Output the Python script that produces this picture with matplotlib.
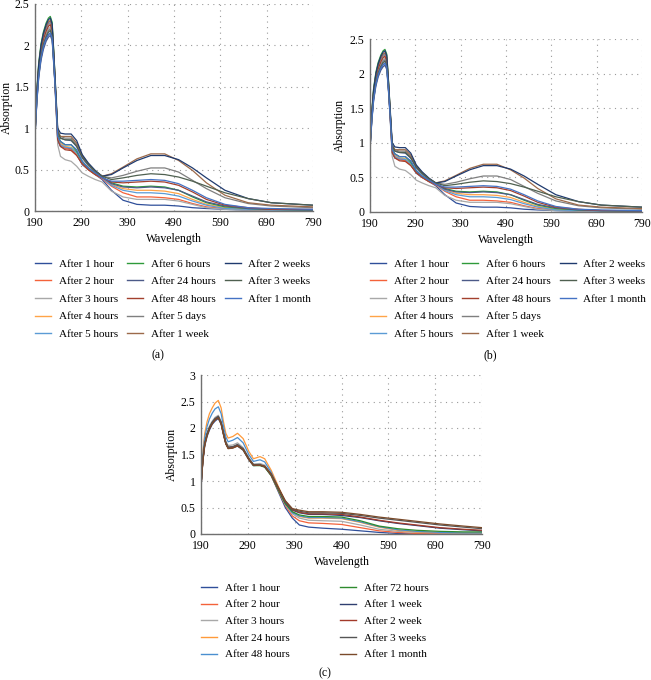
import numpy as np
import matplotlib
matplotlib.use("Agg")
import matplotlib.pyplot as plt
from matplotlib.lines import Line2D

plt.rcParams['font.family'] = ['Liberation Serif', 'DejaVu Serif']

# ---- panel (a) / (b) data ----
wl_ab = [190, 194, 198, 203, 208, 214, 219, 223, 227, 231, 235, 239, 245, 255, 268, 280, 292, 305, 320, 335,
         355, 380, 410, 440, 470, 500, 530, 560, 600, 650, 700, 790]

labels_ab = ["After 1 hour", "After 2 hour", "After 3 hours", "After 4 hours", "After 5 hours",
             "After 6 hours", "After 24 hours", "After 48 hours", "After 5 days", "After 1 week",
             "After 2 weeks", "After 3 weeks", "After 1 month"]
colors_ab = ["#2f4f9a", "#f4623a", "#a8a8a8", "#ffa448", "#5b9bd5",
             "#2e9a3a", "#4c5a88", "#a3402d", "#7f7f7f", "#9c6a4a",
             "#1f3a6e", "#4f6050", "#4472c4"]

a_1h = [0.92, 1.33, 1.63, 1.85, 1.98, 2.08, 2.13, 2.15, 2.09, 1.75, 1.30, 0.85, 0.78, 0.76, 0.75, 0.68, 0.56, 0.50, 0.44, 0.38,
        0.25, 0.13, 0.08, 0.07, 0.07, 0.06, 0.04, 0.03, 0.02, 0.01, 0.01, 0.00]
a_2h = [0.95, 1.41, 1.73, 1.95, 2.09, 2.19, 2.25, 2.27, 2.20, 1.82, 1.35, 0.88, 0.80, 0.76, 0.74, 0.68, 0.57, 0.50, 0.44, 0.39,
        0.30, 0.22, 0.17, 0.17, 0.16, 0.14, 0.09, 0.05, 0.03, 0.02, 0.01, 0.01]
a_3h = [0.93, 1.38, 1.69, 1.91, 2.04, 2.14, 2.20, 2.22, 2.15, 1.78, 1.28, 0.80, 0.66, 0.62, 0.60, 0.54, 0.46, 0.42, 0.38, 0.35,
        0.24, 0.17, 0.14, 0.14, 0.14, 0.12, 0.08, 0.04, 0.02, 0.01, 0.01, 0.00]
a_4h = [0.95, 1.43, 1.75, 1.98, 2.12, 2.22, 2.28, 2.30, 2.23, 1.84, 1.38, 0.90, 0.82, 0.78, 0.77, 0.70, 0.58, 0.51, 0.45, 0.40,
        0.32, 0.27, 0.25, 0.25, 0.24, 0.21, 0.14, 0.08, 0.04, 0.02, 0.01, 0.01]
a_5h = [0.94, 1.41, 1.73, 1.96, 2.10, 2.20, 2.26, 2.28, 2.21, 1.82, 1.36, 0.88, 0.80, 0.77, 0.76, 0.70, 0.58, 0.51, 0.45, 0.40,
        0.31, 0.25, 0.22, 0.22, 0.21, 0.18, 0.12, 0.07, 0.03, 0.02, 0.01, 0.01]
a_6h = [0.96, 1.46, 1.79, 2.02, 2.16, 2.27, 2.33, 2.35, 2.28, 1.88, 1.40, 0.92, 0.84, 0.80, 0.80, 0.72, 0.60, 0.52, 0.46, 0.41,
        0.34, 0.30, 0.29, 0.30, 0.29, 0.25, 0.17, 0.10, 0.05, 0.03, 0.02, 0.01]
a_24h = [0.90, 1.31, 1.61, 1.82, 1.95, 2.05, 2.10, 2.12, 2.06, 1.72, 1.36, 0.95, 0.88, 0.86, 0.85, 0.78, 0.64, 0.55, 0.47, 0.41,
         0.33, 0.29, 0.28, 0.29, 0.28, 0.25, 0.18, 0.11, 0.06, 0.03, 0.02, 0.01]
a_48h = [0.94, 1.40, 1.71, 1.94, 2.07, 2.17, 2.23, 2.25, 2.18, 1.80, 1.33, 0.86, 0.78, 0.74, 0.73, 0.67, 0.57, 0.50, 0.44, 0.40,
         0.35, 0.34, 0.35, 0.36, 0.35, 0.31, 0.23, 0.14, 0.07, 0.04, 0.02, 0.02]
a_5d = [0.93, 1.36, 1.67, 1.89, 2.02, 2.12, 2.18, 2.20, 2.13, 1.77, 1.38, 0.97, 0.90, 0.88, 0.88, 0.80, 0.66, 0.56, 0.48, 0.42,
        0.40, 0.43, 0.48, 0.52, 0.52, 0.47, 0.37, 0.27, 0.16, 0.09, 0.06, 0.04]
a_1w = [0.95, 1.43, 1.75, 1.98, 2.12, 2.22, 2.28, 2.30, 2.23, 1.84, 1.40, 0.96, 0.90, 0.90, 0.90, 0.82, 0.67, 0.57, 0.48, 0.42,
        0.45, 0.53, 0.63, 0.69, 0.69, 0.61, 0.49, 0.34, 0.19, 0.10, 0.07, 0.05]
a_2w = [0.96, 1.44, 1.77, 2.00, 2.14, 2.25, 2.31, 2.33, 2.26, 1.86, 1.44, 1.00, 0.94, 0.93, 0.93, 0.85, 0.68, 0.58, 0.49, 0.42,
        0.44, 0.52, 0.61, 0.67, 0.67, 0.62, 0.52, 0.40, 0.25, 0.15, 0.10, 0.07]
a_3w = [0.92, 1.35, 1.66, 1.87, 2.01, 2.10, 2.16, 2.18, 2.11, 1.75, 1.38, 0.96, 0.88, 0.86, 0.86, 0.78, 0.65, 0.56, 0.48, 0.42,
        0.38, 0.40, 0.43, 0.45, 0.44, 0.41, 0.36, 0.30, 0.22, 0.15, 0.10, 0.07]
a_1m = [0.92, 1.33, 1.63, 1.85, 1.98, 2.08, 2.13, 2.15, 2.09, 1.75, 1.33, 0.90, 0.84, 0.80, 0.80, 0.74, 0.60, 0.52, 0.46, 0.40,
        0.36, 0.36, 0.37, 0.38, 0.37, 0.33, 0.25, 0.16, 0.08, 0.04, 0.03, 0.02]
series_ab = [a_1h, a_2h, a_3h, a_4h, a_5h, a_6h, a_24h, a_48h, a_5d, a_1w, a_2w, a_3w, a_1m]

# ---- panel (c) data ----
wl_c = [190, 194, 198, 203, 208, 214, 220, 227, 233, 238, 243, 248, 258, 268, 280, 292, 302, 316, 326, 340, 355, 370, 385,
        400, 420, 450, 490, 530, 570, 610, 650, 700, 750, 790]

labels_c = ["After 1 hour", "After 2 hour", "After 3 hours", "After 24 hours", "After 48 hours",
            "After 72 hours", "After 1 week", "After 2 week", "After 3 weeks", "After 1 month"]
colors_c = ["#2f4f9a", "#f4623a", "#a8a8a8", "#ff9a3a", "#4a8fd0",
            "#2e8b2e", "#2f3f70", "#a33a2a", "#555555", "#7a4a2a"]

c_1h = [0.88, 1.37, 1.66, 1.84, 1.96, 2.07, 2.13, 2.18, 2.07, 1.87, 1.70, 1.62, 1.63, 1.66, 1.58, 1.40, 1.29, 1.30, 1.27, 1.10, 0.80, 0.50, 0.30,
        0.17, 0.13, 0.11, 0.09, 0.06, 0.03, 0.01, 0.00, 0.00, 0.00, 0.00]
c_2h = [0.90, 1.40, 1.70, 1.88, 2.00, 2.10, 2.16, 2.20, 2.09, 1.89, 1.71, 1.63, 1.64, 1.67, 1.59, 1.41, 1.30, 1.30, 1.27, 1.10, 0.82, 0.54, 0.34,
        0.25, 0.21, 0.20, 0.18, 0.12, 0.06, 0.03, 0.01, 0.01, 0.00, 0.00]
c_3h = [0.92, 1.44, 1.74, 1.92, 2.04, 2.13, 2.20, 2.24, 2.13, 1.93, 1.75, 1.67, 1.68, 1.72, 1.63, 1.44, 1.32, 1.33, 1.30, 1.12, 0.84, 0.56, 0.38,
        0.30, 0.26, 0.25, 0.24, 0.17, 0.09, 0.05, 0.03, 0.02, 0.01, 0.01]
c_24h = [0.95, 1.55, 1.90, 2.12, 2.27, 2.38, 2.47, 2.52, 2.38, 2.12, 1.90, 1.81, 1.84, 1.90, 1.80, 1.56, 1.42, 1.46, 1.42, 1.20, 0.90, 0.60, 0.42,
         0.33, 0.30, 0.30, 0.29, 0.22, 0.13, 0.07, 0.04, 0.03, 0.02, 0.02]
c_48h = [0.93, 1.50, 1.82, 2.03, 2.17, 2.28, 2.36, 2.40, 2.27, 2.03, 1.83, 1.74, 1.77, 1.82, 1.72, 1.50, 1.37, 1.40, 1.36, 1.16, 0.87, 0.58, 0.40,
         0.34, 0.31, 0.31, 0.30, 0.23, 0.14, 0.08, 0.05, 0.03, 0.02, 0.02]
c_72h = [0.90, 1.40, 1.70, 1.88, 2.00, 2.10, 2.16, 2.20, 2.09, 1.89, 1.71, 1.62, 1.63, 1.67, 1.59, 1.41, 1.29, 1.29, 1.26, 1.10, 0.83, 0.57, 0.42,
         0.36, 0.33, 0.33, 0.32, 0.25, 0.15, 0.10, 0.07, 0.05, 0.04, 0.04]
c_1w = [0.90, 1.40, 1.70, 1.88, 2.00, 2.10, 2.17, 2.21, 2.10, 1.90, 1.72, 1.63, 1.64, 1.68, 1.60, 1.42, 1.30, 1.30, 1.27, 1.12, 0.86, 0.60, 0.45,
        0.40, 0.37, 0.37, 0.35, 0.31, 0.25, 0.20, 0.16, 0.11, 0.08, 0.06]
c_2w = [0.89, 1.39, 1.69, 1.87, 1.99, 2.09, 2.16, 2.20, 2.09, 1.89, 1.71, 1.62, 1.63, 1.67, 1.60, 1.41, 1.30, 1.30, 1.27, 1.12, 0.86, 0.61, 0.46,
        0.41, 0.38, 0.38, 0.37, 0.32, 0.26, 0.21, 0.17, 0.12, 0.09, 0.07]
c_3w = [0.90, 1.41, 1.71, 1.89, 2.01, 2.11, 2.18, 2.22, 2.11, 1.91, 1.73, 1.64, 1.65, 1.69, 1.61, 1.43, 1.31, 1.31, 1.28, 1.13, 0.87, 0.62, 0.47,
        0.43, 0.40, 0.40, 0.39, 0.35, 0.30, 0.26, 0.22, 0.17, 0.13, 0.10]
c_1m = [0.88, 1.38, 1.68, 1.86, 1.98, 2.08, 2.15, 2.19, 2.08, 1.88, 1.70, 1.61, 1.62, 1.66, 1.59, 1.41, 1.30, 1.30, 1.28, 1.13, 0.88, 0.63, 0.48,
        0.45, 0.42, 0.42, 0.41, 0.37, 0.32, 0.28, 0.24, 0.19, 0.15, 0.12]
series_c = [c_1h, c_2h, c_3h, c_24h, c_48h, c_72h, c_1w, c_2w, c_3w, c_1m]

xticks = [190, 290, 390, 490, 590, 690, 790]

W, H = 651, 680
fig = plt.figure(figsize=(W / 100, H / 100), dpi=100)


def px_axes(x0, y0, x1, y1):
    # pixel box (left, top, right, bottom) -> figure axes
    return fig.add_axes([x0 / W, 1 - y1 / H, (x1 - x0) / W, (y1 - y0) / H])


def draw_panel(ax, wl, series, colors, ymax, ylab_x):
    for vals, col in zip(series, colors):
        ax.plot(wl, vals, color=col, lw=0.9, solid_joinstyle='round')
    ax.set_xlim(190, 790)
    ax.set_ylim(0, ymax)
    ax.set_xticks(xticks)
    yt = np.arange(0, ymax + 0.01, 0.5)
    ax.set_yticks(yt)
    ax.set_yticklabels([f"{v:g}" for v in yt])
    ax.grid(True, color="#9a9a9a", linestyle=(0, (1, 4)), linewidth=0.8)
    for s in ["top", "right"]:
        ax.spines[s].set_visible(False)
    for s in ["left", "bottom"]:
        ax.spines[s].set_color("#707070")
        ax.spines[s].set_linewidth(1.0)
    ax.tick_params(length=0, labelsize=8.5)
    ax.tick_params(axis="y", pad=4)
    ax.tick_params(axis="x", pad=4)
    ax.set_xlabel("Wavelength", fontsize=8.5, labelpad=3)
    ax.set_ylabel("Absorption", fontsize=8.5, va="center")
    ax.yaxis.set_label_coords(ylab_x, 0.5)


def legend(labels, colors, x, y, ncol, colsp, lsp, nblank=0):
    handles = [Line2D([0], [0], color=c, lw=1.0) for c in colors]
    handles += [Line2D([0], [0], color="none")] * nblank
    fig.legend(handles, list(labels) + [""] * nblank, ncol=ncol, loc="upper left",
               bbox_to_anchor=(x / W, 1 - y / H), frameon=False, fontsize=8,
               handlelength=1.45, handletextpad=0.7, columnspacing=colsp,
               labelspacing=lsp, borderpad=0, borderaxespad=0)


ax_a = px_axes(35, 4, 313, 211)
draw_panel(ax_a, wl_ab, series_ab, colors_ab, 2.5, -0.1)
legend(labels_ab, colors_ab, 35, 259, 3, 0.8, 0.7, nblank=2)
fig.text(158 / W, 1 - 355 / H, "(a)", ha="center", va="center", fontsize=8.5)

ax_b = px_axes(370, 39, 642, 212)
draw_panel(ax_b, wl_ab, series_ab, colors_ab, 2.5, -0.11)
legend(labels_ab, colors_ab, 370, 259, 3, 0.8, 0.7, nblank=2)
fig.text(490 / W, 1 - 355 / H, "(b)", ha="center", va="center", fontsize=8.5)

ax_c = px_axes(201, 375, 482, 534)
draw_panel(ax_c, wl_c, series_c, colors_c, 3.0, -0.104)
legend(labels_c, colors_c, 201, 583, 2, 4.5, 0.62)
fig.text(325 / W, 1 - 673 / H, "(c)", ha="center", va="center", fontsize=8.5)

fig.savefig("out.png", dpi=100)
